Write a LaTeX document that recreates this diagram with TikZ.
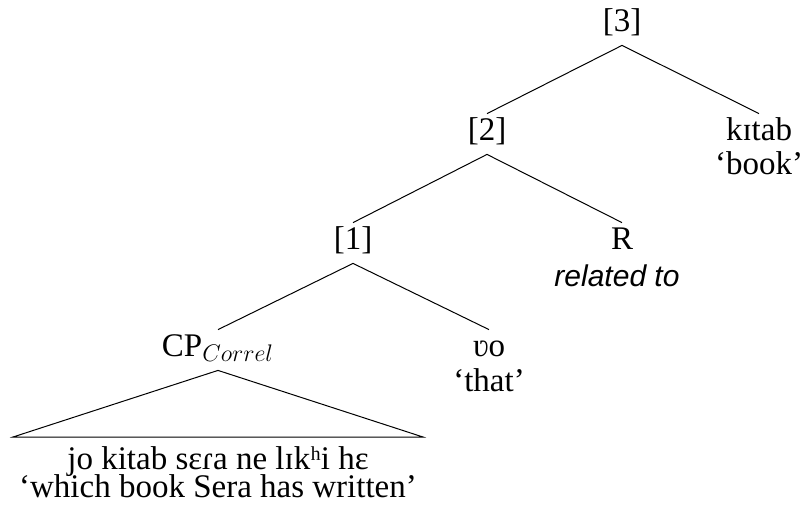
\documentclass[tikz,border=0pt]{standalone}
\usepackage{fontspec}
\setmainfont{Liberation Serif}
\setsansfont{Liberation Sans}
\usepackage{tikz}
\tikzstyle{treenode} = [anchor=base, inner sep=0pt, text height=13pt, text depth=7pt,
    font=\fontsize{16.5}{20}\selectfont]
\tikzstyle{gloss} = [anchor=base, inner sep=0pt, font=\fontsize{16.5}{20}\selectfont]
\tikzstyle{branch} = [draw=black, line width=0.5pt]

\begin{document}
\begin{tikzpicture}[x=0.5pt, y=-0.5pt]
                \useasboundingbox (0,0) rectangle (801,510);
                \node [treenode] (n3) at (622,31) {[3]};
                \node [treenode] (n2) at (487,140) {[2]};
                \node [treenode] (kitab) at (759,140) {kɪtab};
                \node [gloss] (book) at (759,174) {`book'};
                \node [treenode] (n1) at (353,249) {[1]};
                \node [treenode] (rel) at (622,249) {R};
                \node [gloss, font=\fontsize{15}{18}\sffamily\itshape] (relto) at (617,286) {related to};
                \node [treenode] (cp) at (218,356) {CP$_{Correl}$};
                \node [treenode] (vo) at (489,356) {ʋo};
                \node [gloss] (that) at (489,391) {`that'};
                \coordinate (tl) at (13,437);
                \coordinate (tr) at (423,437);
                \node [gloss] (clause) at (218,469) {jo kitab sɛɾa ne lɪkʰi hɛ};
                \node [gloss] (trans) at (218,497) {`which book Sera has written'};
                \draw [branch] (n3.south) -- (n2.north);
                \draw [branch] (n3.south) -- (kitab.north);
                \draw [branch] (n2.south) -- (n1.north);
                \draw [branch] (n2.south) -- (rel.north);
                \draw [branch] (n1.south) -- (cp.north);
                \draw [branch] (n1.south) -- (vo.north);
                \draw [branch] (cp.south) -- (tl) -- (tr) -- cycle;
            \end{tikzpicture}
\end{document}
